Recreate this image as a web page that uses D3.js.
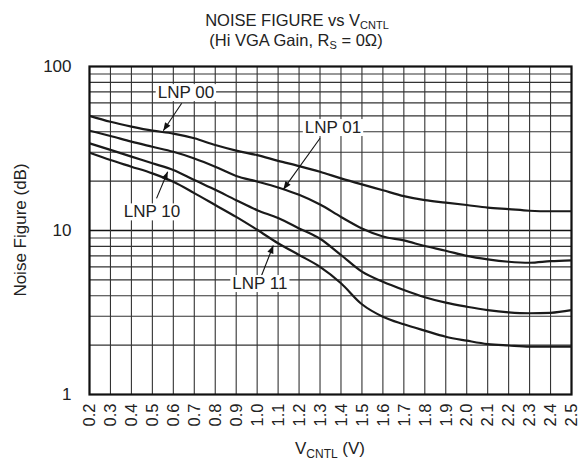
<!DOCTYPE html>
<html>
<head>
<meta charset="utf-8">
<script src="https://cdn.jsdelivr.net/npm/d3@7"></script>
<style>
  body { margin: 0; background: #fff; }
  text { font-family: "Liberation Sans", Arial, sans-serif; fill: #222; }
</style>
</head>
<body>
<div id="chart"></div>
<script>
// Noise figure vs V_CNTL, four LNP settings

const vcntl = [0.2, 0.3, 0.4, 0.5, 0.6, 0.7, 0.8, 0.9, 1.0, 1.1, 1.2, 1.3,
               1.4, 1.5, 1.6, 1.7, 1.8, 1.9, 2.0, 2.1, 2.2, 2.3, 2.4, 2.5];
const lnp00 = [50, 46, 43, 40.6, 39, 36.5, 33.2, 30.7, 28.8, 26.6, 24.7, 22.8,
               20.8, 19.1, 17.6, 16.2, 15.3, 14.8, 14.3, 13.8, 13.5, 13.2, 13.1, 13.1];
const lnp01 = [40.6, 37.7, 34.8, 32.4, 30.2, 27.5, 24.5, 21.5, 19.9, 18.3, 16.5, 14.4,
               12.1, 10.3, 9.2, 8.7, 8.04, 7.53, 7.0, 6.67, 6.45, 6.36, 6.5, 6.58];
const lnp10 = [34.0, 31.0, 28.2, 25.7, 23.4, 20.3, 17.7, 15.3, 13.3, 11.9, 10.3, 8.9,
               7.09, 5.61, 4.87, 4.34, 3.92, 3.63, 3.43, 3.27, 3.17, 3.13, 3.15, 3.27];
const lnp11 = [29.8, 26.9, 24.5, 22.3, 19.8, 16.9, 14.3, 12.1, 10.1, 8.36, 7.09, 6.0,
               4.77, 3.55, 2.98, 2.68, 2.45, 2.25, 2.13, 2.03, 1.99, 1.96, 1.96, 1.96];
const yTicks = [1, 10, 100];

// callouts: label centre, arrow start, arrow tip (data units)
const callouts = [
  {text: "LNP 00", at: [0.66, 69.9], from: [0.64, 59.7], to: [0.552, 40.6]},
  {text: "LNP 01", at: [1.362, 42.8], from: [1.30, 36.5], to: [1.125, 17.8]},
  {text: "LNP 10", at: [0.498, 13.1], from: [0.52, 15.7], to: [0.573, 22.8]},
  {text: "LNP 11", at: [1.013, 4.79], from: [1.02, 5.28], to: [1.077, 8.1]}
];

const width = 579, height = 461,
      margin = ({top: 66.5, right: 7.5, bottom: 66.5, left: 89.5});

let svg = d3.select("#chart")
    .append("svg")
    .attr("width", width)
    .attr("height", height);

let x = d3.scaleLinear()
    .domain([0.2, 2.5])
    .range([margin.left, width - margin.right]);

let y = d3.scaleLog()
    .domain([1, 100])
    .range([height - margin.bottom, margin.top]);

// grid
svg.append("g")
    .selectAll("line")
    .data(y.ticks())
    .join("line")
    .attr("x1", margin.left).attr("x2", width - margin.right)
    .attr("y1", d => y(d)).attr("y2", d => y(d))
    .attr("stroke", d => (d === 10) ? "#111" : "#333")
    .attr("stroke-width", d => (d === 10) ? 1.6 : 1.1);

svg.append("g")
    .selectAll("line")
    .data(vcntl)
    .join("line")
    .attr("x1", d => x(d)).attr("x2", d => x(d))
    .attr("y1", margin.top).attr("y2", height - margin.bottom)
    .attr("stroke", "#333")
    .attr("stroke-width", 1.1);

// frame
svg.append("rect")
    .attr("x", margin.left).attr("y", margin.top)
    .attr("width", width - margin.left - margin.right)
    .attr("height", height - margin.top - margin.bottom)
    .attr("fill", "none")
    .attr("stroke", "#111")
    .attr("stroke-width", 2.2);

// curves
const line = d3.line()
    .x((d, i) => x(vcntl[i]))
    .y(d => y(d))
    .curve(d3.curveMonotoneX);

svg.append("g")
    .selectAll("path")
    .data([lnp00, lnp01, lnp10, lnp11])
    .join("path")
    .attr("d", line)
    .attr("fill", "none")
    .attr("stroke", "#1a1a1a")
    .attr("stroke-width", 2.2);

// axes
const xAxis = g => g
    .attr("transform", `translate(0,${height - margin.bottom + 9})`)
    .call(d3.axisBottom(x).tickValues(vcntl).tickFormat(d3.format(".1f")).tickSize(0))
    .call(g => g.select(".domain").remove())
    .call(g => g.selectAll("text")
        .attr("transform", "rotate(-90)")
        .attr("text-anchor", "end")
        .attr("x", 0).attr("y", 0)
        .attr("dx", 0).attr("dy", "0.32em")
        .attr("font-size", 16.5)
        .attr("fill", "#222"));

const yAxis = g => g
    .attr("transform", `translate(${margin.left},0)`)
    .call(d3.axisLeft(y).tickValues(yTicks).tickFormat(d3.format("d")).tickSize(0).tickPadding(18))
    .call(g => g.select(".domain").remove())
    .call(g => g.selectAll("text").attr("font-size", 17).attr("fill", "#222"));

svg.append("g").call(xAxis);
svg.append("g").call(yAxis);

// arrowhead
svg.append("defs").append("marker")
    .attr("id", "arrow")
    .attr("viewBox", "0 0 10 10")
    .attr("refX", 10).attr("refY", 5)
    .attr("markerWidth", 11).attr("markerHeight", 8)
    .attr("markerUnits", "userSpaceOnUse")
    .attr("orient", "auto")
    .append("path")
    .attr("d", "M0,1 L10,5 L0,9 Z")
    .attr("fill", "#111");

let note = svg.append("g")
    .selectAll("g")
    .data(callouts)
    .join("g");

note.append("line")
    .attr("x1", d => x(d.from[0])).attr("y1", d => y(d.from[1]))
    .attr("x2", d => x(d.to[0])).attr("y2", d => y(d.to[1]))
    .attr("stroke", "#111")
    .attr("stroke-width", 1.1)
    .attr("marker-end", "url(#arrow)");

note.append("rect")
    .attr("fill", "#fff");

note.append("text")
    .attr("x", d => x(d.at[0]))
    .attr("y", d => y(d.at[1]))
    .attr("dy", "0.36em")
    .attr("text-anchor", "middle")
    .attr("font-size", 17)
    .text(d => d.text);

note.each(function() {
    const g = d3.select(this);
    const b = g.select("text").node().getBBox();
    g.select("rect")
        .attr("x", b.x - 2).attr("y", b.y + 1)
        .attr("width", b.width + 4).attr("height", b.height - 2);
});

// titles
let title = svg.append("text")
    .attr("x", 297).attr("y", 26)
    .attr("text-anchor", "middle")
    .attr("font-size", 16.5);
title.append("tspan").text("NOISE FIGURE vs V");
title.append("tspan").attr("font-size", 11).attr("dy", 3).text("CNTL");

let sub = svg.append("text")
    .attr("x", 296).attr("y", 46)
    .attr("text-anchor", "middle")
    .attr("font-size", 16.5);
sub.append("tspan").text("(Hi VGA Gain, R");
sub.append("tspan").attr("font-size", 11).attr("dy", 3).text("S");
sub.append("tspan").attr("dy", -3).text(" = 0\u03A9)");

let xLabel = svg.append("text")
    .attr("x", 330).attr("y", 454)
    .attr("text-anchor", "middle")
    .attr("font-size", 17);
xLabel.append("tspan").text("V");
xLabel.append("tspan").attr("font-size", 12).attr("dy", 4).text("CNTL");
xLabel.append("tspan").attr("dy", -4).text(" (V)");

svg.append("text")
    .attr("transform", "translate(26,230) rotate(-90)")
    .attr("text-anchor", "middle")
    .attr("font-size", 17)
    .text("Noise Figure (dB)");
</script>
</body>
</html>
